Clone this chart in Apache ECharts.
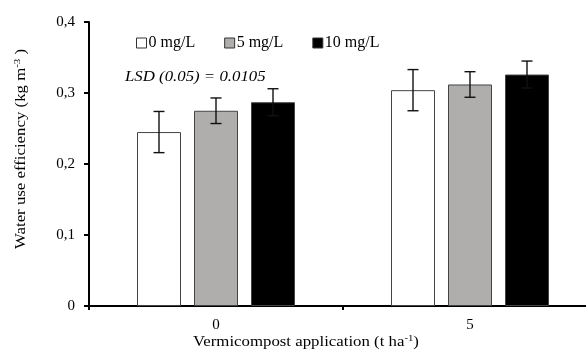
<!DOCTYPE html>
<html>
<head>
<meta charset="utf-8">
<script src="https://cdn.jsdelivr.net/npm/echarts@6/dist/echarts.min.js"></script>
<style>
  html, body { margin: 0; padding: 0; background: #fff; }
  #chart { width: 586px; height: 351px; }
</style>
</head>
<body>
<div id="chart"></div>
<script>
// vermicompost rates (t/ha) on the x axis
var categories = ['0', '5'];
var seriesNames = ['0 mg/L', '5 mg/L', '10 mg/L'];
// water use efficiency, one array per concentration
var wue0 = [0.245, 0.304];
var wue5 = [0.275, 0.312];
var wue10 = [0.287, 0.326];
// half-width of the error bars
var err0 = [0.029, 0.029];
var err5 = [0.018, 0.018];
var err10 = [0.019, 0.019];
var yTicks = [0, 0.1, 0.2, 0.3, 0.4];

var values = [wue0, wue5, wue10];
var errors = [err0, err5, err10];
var fills = ['#ffffff', '#b0adad', '#000000'];
var BAR_W = 44, BAR_GAP = 13;
var serif = '"Liberation Serif", "DejaVu Serif", serif';

var chart = echarts.init(document.getElementById('chart'), null, { renderer: 'canvas' });

var series = [];
values.forEach(function (vals, i) {
    series.push({
        name: seriesNames[i],
        type: 'bar',
        data: vals,
        barWidth: BAR_W,
        barGap: (BAR_GAP / BAR_W * 100) + '%',
        itemStyle: { color: fills[i], borderColor: '#444', borderWidth: 1 },
        silent: true,
        z: 2
    });
});

// error bars drawn on top of each bar
values.forEach(function (vals, i) {
    var off = (i - 1) * (BAR_W + BAR_GAP);
    series.push({
        type: 'custom',
        data: vals.map(function (v, k) { return [k, v, errors[i][k]]; }),
        z: 5,
        silent: true,
        renderItem: function (params, api) {
            var k = api.value(0), v = api.value(1), e = api.value(2);
            var hi = api.coord([k, v + e]);
            var lo = api.coord([k, v - e]);
            var x = hi[0] + off;
            var cap = 5.5;
            var style = { stroke: '#111', lineWidth: 1.4 };
            return {
                type: 'group',
                children: [
                    { type: 'line', shape: { x1: x, y1: hi[1], x2: x, y2: lo[1] }, style: style },
                    { type: 'line', shape: { x1: x - cap, y1: hi[1], x2: x + cap, y2: hi[1] }, style: style },
                    { type: 'line', shape: { x1: x - cap, y1: lo[1], x2: x + cap, y2: lo[1] }, style: style }
                ]
            };
        }
    });
});

chart.setOption({
    animation: false,
    backgroundColor: '#fff',
    // the x axis runs past the right edge of the picture
    grid: { left: 89, top: 22, bottom: 45, right: -11, outerBoundsMode: 'none' },
    legend: {
        data: seriesNames,
        left: 131,
        top: 30,
        itemWidth: 10,
        itemHeight: 10,
        itemGap: 29,
        icon: 'rect',
        textStyle: { fontFamily: serif, fontSize: 16, color: '#000', padding: [0, 0, 0, -3] },
        itemStyle: { borderColor: '#333', borderWidth: 1 }
    },
    xAxis: {
        type: 'category',
        data: categories,
        axisLine: { lineStyle: { color: '#000', width: 2 } },
        axisTick: { show: true, length: 4, lineStyle: { color: '#000', width: 2 } },
        axisLabel: { fontFamily: serif, fontSize: 15, color: '#000', margin: 12 }
    },
    yAxis: {
        type: 'value',
        min: yTicks[0],
        max: yTicks[yTicks.length - 1],
        interval: 0.1,
        splitLine: { show: false },
        axisLine: { show: true, lineStyle: { color: '#000', width: 2 } },
        axisTick: { show: true, length: 5, lineStyle: { color: '#000', width: 2 } },
        axisLabel: {
            fontFamily: serif, fontSize: 15, color: '#000', margin: 14,
            formatter: function (v) { return String(Number(v.toFixed(1))).replace('.', ','); }
        }
    },
    graphic: [
        {
            type: 'text', x: 125, y: 77, scaleX: 1.2,
            style: { text: 'LSD (0.05) = 0.0105', font: 'italic 14px ' + serif, fill: '#000', verticalAlign: 'middle' }
        },
        {
            type: 'text', x: 306, y: 342, scaleX: 1.2,
            style: {
                text: '{n|Vermicompost application (t ha}{s|-1}{n|)}',
                align: 'center', verticalAlign: 'middle',
                rich: {
                    n: { fontFamily: serif, fontSize: 14, fill: '#000' },
                    s: { fontFamily: serif, fontSize: 9, fill: '#000', verticalAlign: 'top', padding: [0, 0, 6, 0] }
                }
            }
        },
        {
            type: 'text', x: 21, y: 149, rotation: Math.PI / 2, scaleX: 1.2,
            style: {
                text: '{n|Water use efficiency (kg m}{s|-3}{n| )}',
                align: 'center', verticalAlign: 'middle',
                rich: {
                    n: { fontFamily: serif, fontSize: 14, fill: '#000' },
                    s: { fontFamily: serif, fontSize: 9, fill: '#000', verticalAlign: 'top', padding: [0, 0, 6, 0] }
                }
            }
        }
    ],
    series: series
});
</script>
</body>
</html>
